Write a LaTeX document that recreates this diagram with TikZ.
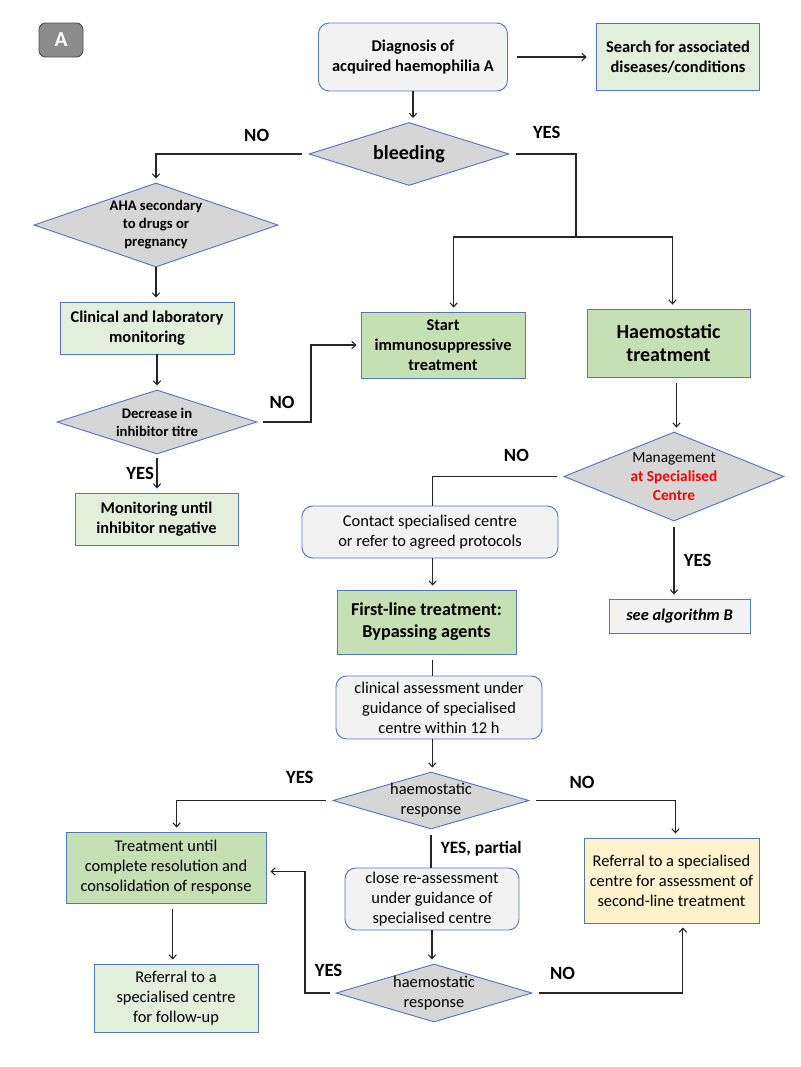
\documentclass[tikz,border=0pt]{standalone}
\usepackage{fontspec}
\setmainfont{Carlito}
\usepackage{xcolor}
\usepackage{tikz}
\usetikzlibrary{shapes.geometric, arrows.meta, calc, positioning}
\definecolor{bordblue}{RGB}{84,118,186}
\definecolor{boxgray}{RGB}{242,242,242}
\definecolor{diagray}{RGB}{214,214,214}
\definecolor{lightgreen}{RGB}{226,239,218}
\definecolor{darkgreen}{RGB}{197,224,180}
\definecolor{paleyellow}{RGB}{255,242,204}
\definecolor{tagfill}{RGB}{140,140,140}
\tikzset{
	box/.style={draw=bordblue, line width=0.7pt, align=center, inner sep=1pt},
	roundbox/.style={box, rounded corners=8pt, fill=boxgray},
	greybox/.style={box, fill=boxgray},
	palebox/.style={box, fill=lightgreen},
	greenbox/.style={box, fill=darkgreen},
	yellowbox/.style={box, fill=paleyellow},
	decision/.style={diamond, draw=bordblue, line width=0.7pt, fill=diagray, align=center, inner sep=-20pt}
}
\newcommand{\fnorm}{\fontsize{12.3}{15}\selectfont}
\newcommand{\fsmall}{\fontsize{11}{13.5}\selectfont}
\newcommand{\fbig}{\fontsize{15}{17.6}\selectfont}
\newcommand{\flbl}{\fontsize{14}{16}\selectfont\bfseries}

\begin{document}
\begin{tikzpicture}[
	x=0.75pt, y=-0.75pt,
	arr/.style={-{Straight Barb[length=3pt,width=5.5pt]}, shorten >=3pt},
	link/.style={draw=black!85, line width=0.8pt},
	lbl/.style={font=\flbl, inner sep=1pt}]
	\useasboundingbox (0,0) rectangle (800,1067);

	\node[box, draw=black!70, fill=tagfill, rounded corners=5pt, text=white, font=\fontsize{16}{16}\selectfont\bfseries, minimum width=33pt, minimum height=25.5pt] (tagA) at (61,40) {A};

	\node[roundbox, font=\fnorm\bfseries, minimum width=141.75pt, minimum height=51pt] (diag) at (413,57) {Diagnosis of\\acquired haemophilia A};
	\node[palebox, font=\fnorm\bfseries, minimum width=122.25pt, minimum height=50.25pt] (search) at (678,57) {Search for associated\\diseases/conditions};
	\node[decision, font=\fbig\bfseries, minimum width=150pt, minimum height=47.25pt] (bleed) at (409,154) {bleeding};

	\node[decision, font=\fsmall\bfseries, minimum width=183pt, minimum height=63pt] (aha) at (156,225) {AHA secondary\\to drugs or\\pregnancy};
	\node[palebox, font=\fnorm\bfseries, minimum width=130.5pt, minimum height=39pt] (clin) at (147,328) {Clinical and laboratory\\monitoring};
	\node[decision, font=\fsmall\bfseries, minimum width=150pt, minimum height=48pt] (decr) at (157,422) {Decrease in\\inhibitor titre};
	\node[palebox, font=\fnorm\bfseries, minimum width=122.25pt, minimum height=39pt] (monit) at (156.5,519) {Monitoring until\\inhibitor negative};

	\node[greenbox, font=\fnorm\bfseries, minimum width=123pt, minimum height=49.5pt] (start) at (443,345) {Start\\immunosuppressive\\treatment};
	\node[greenbox, font=\fbig\bfseries, minimum width=122.25pt, minimum height=51pt] (haem) at (668.5,343) {Haemostatic\\treatment};
	\node[decision, font=\fontsize{11.5}{14}\selectfont, minimum width=165pt, minimum height=66.75pt] (mgmt) at (674,476.5) {Management\\\textcolor{red}{\bfseries at Specialised}\\\textcolor{red}{\bfseries Centre}};
	\node[roundbox, font=\fnorm, minimum width=192pt, minimum height=39pt] (contact) at (430,532) {Contact specialised centre\\or refer to agreed protocols};
	\node[greenbox, font=\fontsize{13.6}{16.5}\selectfont\bfseries, minimum width=134.25pt, minimum height=48pt] (first) at (426.5,622) {First-line treatment:\\Bypassing agents};
	\node[greybox, font=\fnorm\bfseries\itshape, minimum width=105.75pt, minimum height=25.5pt] (algB) at (679.5,616) {see algorithm B};

	\node[roundbox, font=\fnorm, minimum width=154.5pt, minimum height=47.25pt] (clinass) at (439,707.5) {clinical assessment under\\guidance of specialised\\centre within 12 h};
	\node[decision, font=\fnorm, minimum width=147pt, minimum height=42.75pt] (resp1) at (431,800.5) {haemostatic\\response};
	\node[greenbox, font=\fnorm, minimum width=150pt, minimum height=53.25pt] (treat) at (166,867.5) {Treatment until\\complete resolution and\\consolidation of response};
	\node[roundbox, font=\fnorm, minimum width=130.5pt, minimum height=46.5pt] (closere) at (432,899) {close re-assessment\\under guidance of\\specialised centre};
	\node[yellowbox, font=\fnorm, minimum width=131.25pt, minimum height=63.75pt] (refer) at (671.5,880.5) {Referral to a specialised\\centre for assessment of\\second-line treatment};
	\node[decision, font=\fnorm, minimum width=147pt, minimum height=43.5pt] (resp2) at (434,993) {haemostatic\\response};
	\node[palebox, font=\fnorm, minimum width=123pt, minimum height=51pt] (followup) at (176,998) {Referral to a\\specialised centre\\for follow-up};

	\coordinate (split) at (576,237);
	\coordinate (decrno) at (311,345);
	\coordinate (resp2yes) at (305,993);

	\draw[link, arr, shorten <=7pt, shorten >=7pt] (diag.east) -- (search.west);
	\draw[link, arr] (diag.south) -- (diag.south |- bleed.north);
	\draw[link, arr, shorten <=5pt] (bleed.west) -| node[lbl, pos=.17, yshift=14pt] (noA) {NO} (aha.north);
	\draw[link, shorten <=5pt] (bleed.east) -| node[lbl, pos=.28, yshift=16pt] (yesA) {YES} (split);
	\draw[link, arr] (split) -| ([xshift=8pt]start.north);
	\draw[link, arr] (split) -| ([xshift=3pt]haem.north);
	\draw[link, arr] (aha.south) -- (aha.south |- clin.north);
	\draw[link, arr] (clin.south -| decr.north) -- (decr.north);
	\draw[link, arr, shorten <=4pt] (decr.east) -| node[lbl, pos=.23, yshift=15pt] (noB) {NO} (decrno) |- (start.west);
	\draw[link, arr, shorten <=3pt] (decr.south) -- node[lbl, midway, left=1pt] (yesB) {YES} (decr.south |- monit.north);
	\draw[link, arr, shorten <=4pt] ([xshift=6pt]haem.south) -- ([xshift=6pt]haem.south |- mgmt.north);
	\draw[link, shorten <=5pt] (mgmt.west) -| node[lbl, pos=.18, yshift=16pt] (noC) {NO} ([xshift=2pt]contact.north);
	\draw[link, arr, shorten <=4pt] (mgmt.south) -- node[lbl, midway, right=6pt] (yesC) {YES} (mgmt.south |- algB.north);
	\draw[link, arr] ([xshift=2pt]contact.south) -- ([xshift=2pt]contact.south |- first.north);
	\draw[link, shorten <=4pt] ([xshift=-5pt]clinass.north |- first.south) -- ([xshift=-5pt]clinass.north);
	\draw[link, arr] ([xshift=-5pt]clinass.south) -- ([xshift=-5pt]clinass.south |- resp1.north);
	\draw[link, arr, shorten <=5pt] (resp1.west) -| node[lbl, pos=.105, yshift=17pt] (yesD) {YES} ([xshift=8pt]treat.north);
	\draw[link, arr, shorten <=5pt] (resp1.east) -| node[lbl, pos=.18, yshift=13.5pt] (noD) {NO} ([xshift=3pt]refer.north);
	\draw[link, shorten <=4pt] (resp1.south) -- node[lbl, midway, right=6pt, font=\fontsize{13}{15}\selectfont\bfseries] (partial) {YES, partial} (resp1.south |- closere.north);
	\draw[link, arr] (closere.south) -- (closere.south |- resp2.north);
	\draw[link, arr, shorten <=4pt] (resp2.west) -- node[lbl, pos=.23, yshift=17pt] (yesE) {YES} (resp2yes) |- ([yshift=-3pt]treat.east);
	\draw[link, arr, shorten <=5pt] (resp2.east) -| node[lbl, pos=.1, yshift=15pt] (noE) {NO} ([xshift=8.5pt]refer.south);
	\draw[link, arr, shorten <=4pt] ([xshift=5pt]treat.south) -- ([xshift=5pt]treat.south |- followup.north);
\end{tikzpicture}
\end{document}
